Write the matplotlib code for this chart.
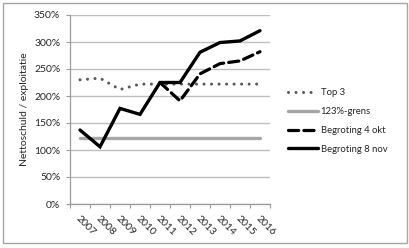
import matplotlib
matplotlib.use("Agg")
import matplotlib.pyplot as plt
import numpy as np
from matplotlib.patches import Rectangle
from matplotlib.ticker import FuncFormatter

years = ["2007", "2008", "2009", "2010", "2011", "2012", "2013", "2014", "2015", "2016"]
top3 = [230, 233, 212, 222, 222, 222, 222, 222, 222, 222]
grens = [123] * 10
begr_4okt = [np.nan, np.nan, np.nan, np.nan, 225, 191, 241, 260, 265, 282]
begr_8nov = [137, 106, 177, 166, 225, 225, 281, 299, 302, 321]
yticks = [0, 50, 100, 150, 200, 250, 300, 350]

plt.rcParams['font.family'] = ['Lato', 'DejaVu Sans']
W, H = 410, 248
fig = plt.figure(figsize=(W / 100, H / 100), dpi=100)
ax = fig.add_axes([70 / W, (H - 204) / H, 200 / W, 189 / H])

x = np.arange(len(years))
ax.plot(x, top3, color='#595959', lw=2.2, linestyle=(0, (0.01, 2.45)),
        dash_capstyle='round', label='Top 3')
ax.plot(x, grens, color='#a6a6a6', lw=2.4, solid_capstyle='round', label='123%-grens')
ax.plot(x, begr_4okt, color='black', lw=2.3, linestyle=(0, (3.2, 1.6)),
        dash_capstyle='round', label='Begroting 4 okt')
ax.plot(x, begr_8nov, color='black', lw=2.4, solid_joinstyle='miter',
        solid_capstyle='round', label='Begroting 8 nov')

ax.set_xlim(-0.5, len(years) - 0.5)
ax.set_ylim(0, 350)
ax.set_yticks(yticks)
ax.yaxis.set_major_formatter(FuncFormatter(lambda v, p: f"{int(v)}%"))
ax.grid(axis='y', color='#bfbfbf', lw=1)
ax.set_axisbelow(True)
for s in ['top', 'right']:
    ax.spines[s].set_visible(False)
for s in ['left', 'bottom']:
    ax.spines[s].set_color('#9a9a9a')
    ax.spines[s].set_linewidth(0.9)

ax.set_xticks(np.arange(-0.5, len(years) + 0.5, 1))
ax.set_xticklabels([])
ax.set_xticks(x, minor=True)
ax.set_xticklabels(years, minor=True, rotation=-45, ha='left', va='top',
                   rotation_mode='anchor', fontsize=7.5, color='#262626')
ax.tick_params(axis='x', which='major', length=3, color='#9a9a9a', direction='out')
ax.tick_params(axis='x', which='minor', length=0, pad=7)
ax.tick_params(axis='y', length=3, color='#9a9a9a', labelsize=7.5, labelcolor='#262626', pad=4)

fig.text(24.5 / W, 1 - 109.5 / H, "Nettoschuld / exploitatie", rotation=90,
         ha='center', va='center', fontsize=7.5, color='#262626')

leg = fig.legend(loc='upper left', bbox_to_anchor=(288 / W, 1 - 88 / H), frameon=False,
                 fontsize=6.8, handlelength=3.2, handletextpad=0.25, labelspacing=1.05,
                 borderaxespad=0, borderpad=0)
for t in leg.get_texts():
    t.set_color('#262626')

fig.patches.append(Rectangle((3 / W, (H - 243) / H), 404 / W, 240 / H,
                             transform=fig.transFigure, fill=False,
                             edgecolor='#a6a6a6', lw=1))

fig.savefig("out.png", dpi=100)
